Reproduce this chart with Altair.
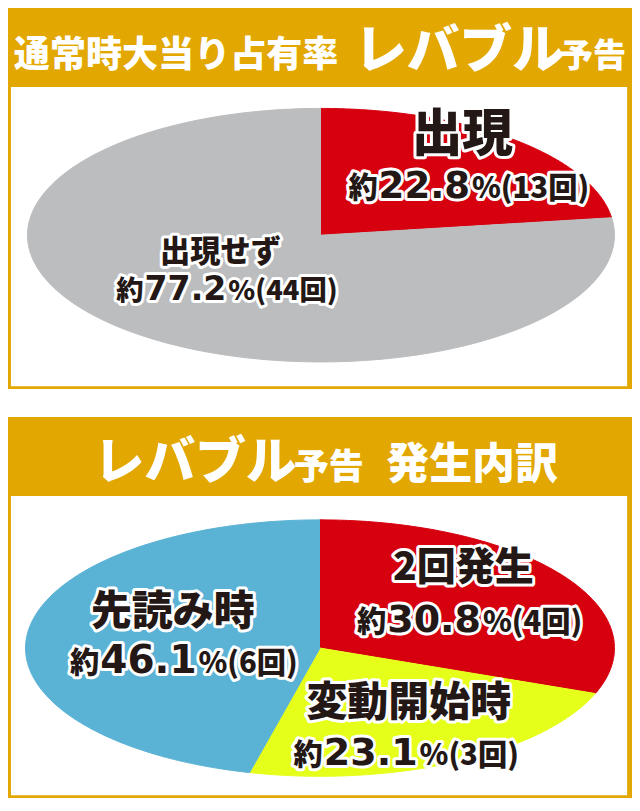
import altair as alt
import pandas as pd

# the reference is 640 px wide, the page leaves 624 after its margin
S = 624 / 640

# panel 1: 通常時大当り占有率
p1_names = ["出現", "出現せず"]
p1_counts = [13, 44]
p1_pcts = ["22.8", "77.2"]
p1_colors = ["#d7000f", "#bcbdbf"]

# panel 2: レバブル予告 発生内訳
p2_names = ["2回発生", "変動開始時", "先読み時"]
p2_counts = [4, 3, 6]
p2_pcts = ["30.8", "23.1", "46.1"]
p2_colors = ["#d7000f", "#e5ff1a", "#5ab2d5"]

# header texts
h1_texts = ["通常時大当り占有率", "レバブル", "予告"]
h2_texts = ["レバブル", "予告", "発生内訳"]

GOLD = "#e2a700"
INK = "#231815"
JP = "Noto Sans CJK JP Black, Noto Sans CJK JP"
NUM = "DejaVu Sans"

W = 624
H = round(391 * S)


def pie(names, counts, colors, cx, cy, a, b):
    df = pd.DataFrame({"name": names, "count": counts, "idx": list(range(len(names)))})
    n = 180
    cscale = alt.Scale(domain=names, range=colors)
    return alt.Chart(df).transform_joinaggregate(
        total="sum(count)"
    ).transform_window(
        cum="sum(count)", sort=[alt.SortField("idx")]
    ).transform_calculate(
        a0="2*PI*(datum.cum - datum.count)/datum.total",
        a1="2*PI*datum.cum/datum.total",
        step=f"sequence(0, {n + 2})",
    ).transform_flatten(["step"]).transform_calculate(
        ang=f"datum.a0 + (datum.a1 - datum.a0)*clamp(datum.step - 1, 0, {n})/{n}",
        px="datum.step == 0 ? 0 : sin(datum.ang)",
        py="datum.step == 0 ? 0 : cos(datum.ang)",
    ).mark_line(strokeWidth=1).encode(
        x=alt.X("px:Q", axis=None,
                scale=alt.Scale(domain=[-1, 1], range=[(cx - a) * S, (cx + a) * S], nice=False, zero=False)),
        y=alt.Y("py:Q", axis=None,
                scale=alt.Scale(domain=[-1, 1], range=[(cy + b) * S, (cy - b) * S], nice=False, zero=False)),
        detail="name:N",
        order="step:Q",
        fill=alt.Fill("name:N", scale=cscale, legend=None),
        color=alt.Color("name:N", scale=cscale, legend=None),
    )


def num_width(s, size):
    # DejaVu Sans Bold advance widths
    return size * sum(0.38 if ch == "." else 0.696 for ch in s)


def label_rows(names, counts, pcts, name_pos, pct_pos):
    rows = []
    for nm, c, p, (nx, ny, ns), (px, py, big, small) in zip(names, counts, pcts, name_pos, pct_pos):
        rows.append(dict(kind="name", text=nm, x=nx * S, y=ny * S, size=ns * S))
        w = num_width(p, big)
        rows.append(dict(kind="num", text=p, x=px * S, y=py * S, size=big * S))
        rows.append(dict(kind="pre", text="約", x=(px - w / 2 - 1) * S, y=py * S, size=small * S))
        rows.append(dict(kind="suf", text=f"%({c}回)", x=(px + w / 2 + 2) * S, y=py * S, size=small * S))
    return pd.DataFrame(rows)


def text_layers(df, kind, font, align, halo=True, color=INK):
    base = alt.Chart(df).transform_filter(alt.datum.kind == kind)
    enc = dict(
        x=alt.X("x:Q", scale=None, axis=None),
        y=alt.Y("y:Q", scale=None, axis=None),
        text="text:N",
        size=alt.Size("size:Q", scale=None, legend=None),
    )
    ink = base.mark_text(font=font, fontWeight=900, align=align, baseline="alphabetic",
                         fill=color).encode(**enc)
    if not halo:
        return [ink]
    outline = base.mark_text(font=font, fontWeight=900, align=align, baseline="alphabetic",
                             fill="white", stroke="white", strokeWidth=6,
                             strokeJoin="round").encode(**enc)
    return [outline, ink]


def panel(header_texts, header_pos, pie_chart, labels):
    one = pd.DataFrame({"v": [0]})
    gold = alt.Chart(one).mark_rect(color=GOLD).encode(
        x=alt.value(0), x2=alt.value(W), y=alt.value(0), y2=alt.value(H))
    white = alt.Chart(one).mark_rect(color="white").encode(
        x=alt.value(3 * S), x2=alt.value(635 * S), y=alt.value(81 * S), y2=alt.value(388 * S))
    hdf = pd.DataFrame([dict(kind="head", text=t, x=x * S, y=y * S, size=s * S)
                        for t, (x, y, s) in zip(header_texts, header_pos)])
    layers = [gold, white, pie_chart]
    layers += text_layers(hdf, "head", JP, "left", halo=False, color="white")
    layers += text_layers(labels, "name", JP, "center")
    layers += text_layers(labels, "pre", JP, "right")
    layers += text_layers(labels, "suf", JP, "left")
    layers += text_layers(labels, "num", NUM, "center")
    return alt.layer(*layers).resolve_scale(
        x="independent", y="independent", size="independent",
        fill="independent", color="independent"
    ).properties(width=W, height=H)


lab1 = label_rows(p1_names, p1_counts, p1_pcts,
                  [(466, 147, 52), (218, 261, 31)],
                  [(427, 195, 38, 30), (182, 299, 34, 28)])
lab2 = label_rows(p2_names, p2_counts, p2_pcts,
                  [(467, 167, 40), (411, 307, 42), (169, 213, 42)],
                  [(437, 220, 39, 30), (372, 357, 39, 30), (144, 263, 40, 30)])

top = panel(h1_texts, [(6, 61, 37), (355, 62, 54), (566, 61, 34)],
            pie(p1_names, p1_counts, p1_colors, 321, 233, 301, 130), lab1)
bottom = panel(h2_texts, [(88, 64, 52), (293, 64, 36), (388, 64, 44)],
               pie(p2_names, p2_counts, p2_colors, 320, 237, 302, 131.5), lab2)

chart = alt.vconcat(top, bottom, spacing=28).properties(
    padding=0, background="white"
).configure_view(stroke=None)

chart.save("out.html", embed_options={"renderer": "svg", "actions": False})
